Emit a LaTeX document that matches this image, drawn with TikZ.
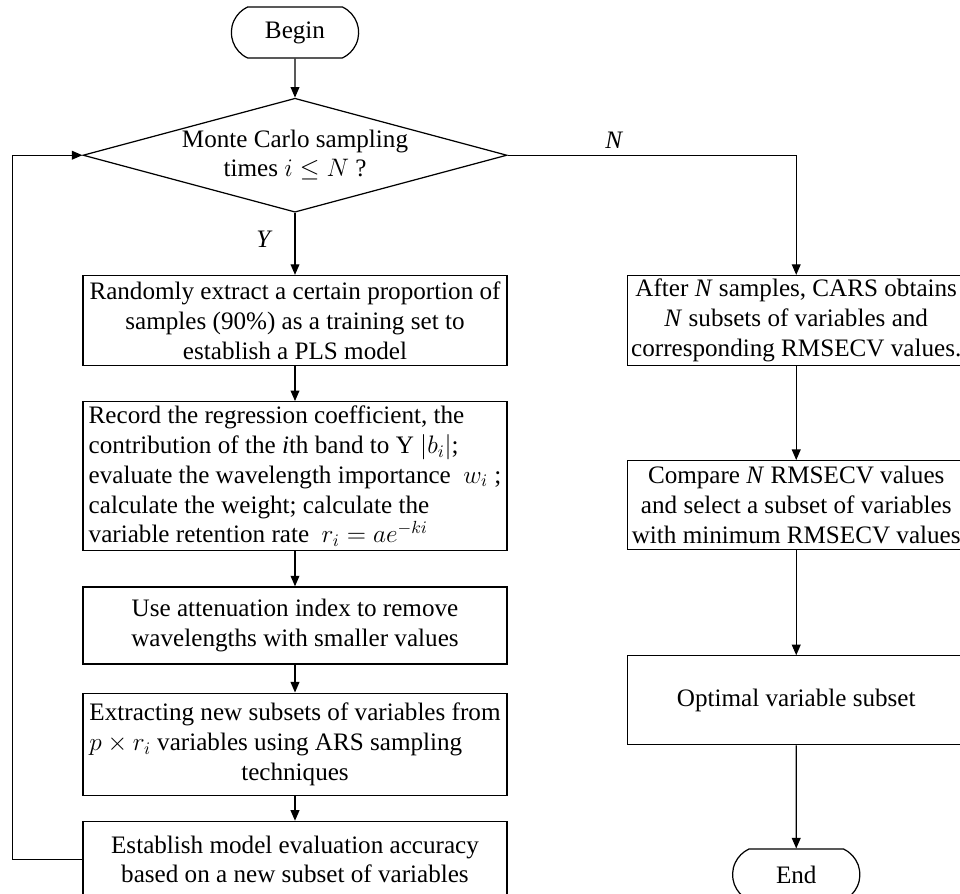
\documentclass[tikz,border=0pt]{standalone}
\usepackage{fontspec}
\setmainfont{Liberation Serif}
\usetikzlibrary{arrows.meta, positioning, calc, shapes.geometric, shapes.misc}
\newcommand{\flowfont}{\fontsize{14.3pt}{17pt}\selectfont}
\newlength{\arsw}
\tikzset{
  block/.style    = {draw, rectangle, align=center, font=\flowfont,
                     inner xsep=2pt, inner ysep=2pt, minimum width=8.48cm},
  rblock/.style   = {block, minimum width=6.76cm, minimum height=1.78cm},
  term/.style     = {draw, rounded rectangle, rounded rectangle arc length=130,
                     font=\flowfont, minimum width=2.78cm, minimum height=1.02cm},
  decision/.style = {draw, diamond, aspect=3.72, inner sep=0pt, align=center,
                     font=\fontsize{14.3pt}{16.5pt}\selectfont,
                     minimum width=8.48cm, minimum height=2.28cm},
  arr/.style      = {-{Triangle[length=6pt, width=5pt]}},
  lbl/.style      = {font=\flowfont}
}

\begin{document}
\begin{tikzpicture}[line width=0.7pt]
  \useasboundingbox (0,0) rectangle (19.2,-17.88);

  % ── CARS loop (left column) ───────────────────────────────────────────────
  \node[term]                         (Begin) at (5.9,-0.65) {Begin};
  \node[decision, below=0.78cm of Begin] (MC)
        {Monte Carlo sampling\\ times $i \leq N$ ?};
  \node[block, below=1.24cm of MC, minimum height=1.8cm] (Split)
        {Randomly extract a certain proportion of\\ samples (90\%) as a training set to\\ establish a PLS model};
  \node[block, below=0.7cm of Split, minimum height=2.98cm, align=left] (Coef)
        {Record the regression coefficient, the\\ contribution of the \textit{i}th band to Y $|b_i|$;\\ evaluate the wavelength importance \ $w_i$ ;\\ calculate the weight; calculate the\\ variable retention rate \ $r_i = ae^{-ki}$};
  \node[block, below=0.7cm of Coef, minimum height=1.54cm] (Atten)
        {Use attenuation index to remove\\ wavelengths with smaller values};
  \node[block, below=0.56cm of Atten, minimum height=2.04cm, align=left] (ARS)
        {\settowidth{\arsw}{Extracting new subsets of variables from}\global\arsw=\arsw
         Extracting new subsets of variables from\\ $p \times r_i$ variables using ARS sampling\\ \makebox[\arsw]{techniques}};
  \node[block, below=0.5cm of ARS, minimum height=1.52cm] (Eval)
        {Establish model evaluation accuracy\\ based on a new subset of variables};

  % ── result (right column) ─────────────────────────────────────────────────
  \node[rblock, right=2.38cm of Split] (After)
        {After \textit{N} samples, CARS obtains\\ \textit{N} subsets of variables and\\ corresponding RMSECV values.};
  \node[rblock, below=1.88cm of After] (Cmp)
        {Compare \textit{N} RMSECV values\\ and select a subset of variables\\ with minimum RMSECV values};
  \node[rblock, below=2.1cm of Cmp]   (Opt)   {Optimal variable subset};
  \node[term,   below=2.06cm of Opt]  (End)   {End};

  % ── Connections ───────────────────────────────────────────────────────────
  \draw[arr] (Begin) -- (MC);
  \draw[arr] (MC)    -- node[lbl, left=0.32cm, pos=0.42]{\textit{Y}} (Split);
  \draw[arr] (MC.east) -| node[lbl, above, pos=0.185]{\textit{N}} (After);
  \draw[arr] (Split) -- (Coef);
  \draw[arr] (Coef)  -- (Atten);
  \draw[arr] (Atten) -- (ARS);
  \draw[arr] (ARS)   -- (Eval);

  % back to the sampling test
  \draw[arr] (Eval.west) -- ++(-1.4,0) |- (MC.west);

  \draw[arr] (After) -- (Cmp);
  \draw[arr] (Cmp)   -- (Opt);
  \draw[arr] (Opt)   -- (End);

\end{tikzpicture}
\end{document}
